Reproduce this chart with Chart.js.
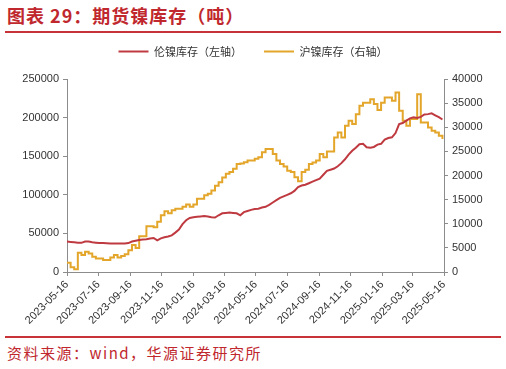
<!DOCTYPE html>
<html><head><meta charset="utf-8">
<script src="https://cdn.jsdelivr.net/npm/chart.js@4.4.1/dist/chart.umd.min.js"></script>
<style>
html,body{margin:0;padding:0;background:#fff;width:506px;height:369px;overflow:hidden;}
#title{position:absolute;left:7px;top:3px;font:bold 18px "Noto Sans CJK SC";color:#c0282e;letter-spacing:1px;white-space:nowrap;line-height:24px;}
.rule{position:absolute;left:5px;width:496px;height:2px;background:#c8333a;}
#src{position:absolute;left:7px;top:342px;font:15px "Noto Sans CJK SC";color:#c0282e;letter-spacing:1.5px;white-space:nowrap;line-height:22px;}
#wrap{position:absolute;left:0;top:24px;width:506px;height:312px;}
</style></head><body>
<div id="title">图表 29：期货镍库存（吨）</div>
<div class="rule" style="top:31px"></div>
<div id="wrap"><canvas id="c" width="506" height="312"></canvas></div>
<div class="rule" style="top:336px"></div>
<div id="src">资料来源：wind，华源证券研究所</div>
<script>
const startDate = '2023-05-16';
const tickLabels = ['2023-05-16','2023-07-16','2023-09-16','2023-11-16','2024-01-16','2024-03-16','2024-05-16','2024-07-16','2024-09-16','2024-11-16','2025-01-16','2025-03-16','2025-05-16'];
const seriesNames = ['伦镍库存（左轴）','沪镍库存（右轴）'];
// weekly readings starting 2023-05-16
const lmeStocks = [39500,39000,38500,38000,37800,39500,39500,38500,38000,37500,
37500,37200,37000,37000,36800,36800,37000,37500,39500,40500,
41500,42000,42500,43500,44000,41000,43500,45000,46000,47500,
51000,55000,62000,67000,70000,71000,71500,72000,72500,72000,
71000,70500,73500,76000,76500,77000,76500,76000,73500,77500,
79000,80500,81500,82000,83500,84500,87000,90000,93000,96000,
98000,100000,102000,105000,110000,112000,113000,115000,117000,119000,
121000,126000,131000,132500,134000,137000,141000,146000,152000,157000,
161000,165500,166000,161500,161000,162000,165000,166000,171500,173500,
174500,180000,191500,193000,196000,199000,200500,199500,201000,204000,
204500,205500,203000,200500,197500];
const shfeStocks = [1900,970,560,4000,3500,4200,3850,3150,2800,2800,
2470,2470,3000,3500,3000,3300,3700,4500,5600,5000,
7400,7400,9500,9500,9300,10400,11750,12580,12200,12800,
13100,13100,13500,14000,13500,14000,15200,15200,15900,16200,
16900,17900,18600,19600,20350,20700,21400,22400,22500,22750,
23100,23100,23450,23800,24800,25500,25500,24470,23100,22400,
21860,21000,20700,19650,18830,20700,21170,22400,22700,23100,
24470,23800,25000,25000,27900,28900,27900,30300,31340,30650,
32720,34440,35100,35100,35800,34800,33550,35100,36150,36150,
35470,37180,33400,31340,30300,31700,31700,36850,31000,31000,
29960,29280,28900,28250,27570];

const DAY = 86400000;
const t0 = Date.parse(startDate + 'T00:00:00Z');
const dayOf = s => Math.round((Date.parse(s + 'T00:00:00Z') - t0) / DAY);
const weekDates = lmeStocks.map((_, i) => new Date(t0 + i * 7 * DAY).toISOString().slice(0, 10));
const tickOffsets = tickLabels.map(dayOf);

const RED = '#bf3a40', YEL = '#e3a62a';
const tickFont = {family: '"Liberation Sans", Arial, sans-serif', size: 11};
const axisCol = '#8c8c8c';

const legendGap = {
  id: 'legendGap',
  beforeInit(chart) {
    const fit = chart.legend.fit;
    chart.legend.fit = function () { fit.bind(this)(); this.height += 12; };
  }
};

new Chart(document.getElementById('c'), {
  type: 'line',
  plugins: [legendGap],
  data: {
    datasets: [
      {label: seriesNames[0], data: lmeStocks.map((v, i) => ({x: dayOf(weekDates[i]), y: v})),
       borderColor: RED, backgroundColor: RED, borderWidth: 2, pointRadius: 0, tension: 0, yAxisID: 'yL'},
      {label: seriesNames[1], data: shfeStocks.map((v, i) => ({x: dayOf(weekDates[i]), y: v})),
       borderColor: YEL, backgroundColor: YEL, borderWidth: 2, pointRadius: 0, stepped: 'before', yAxisID: 'yR'}
    ]
  },
  options: {
    responsive: false, animation: false,
    layout: {padding: {top: 0, left: 0, right: 0, bottom: 0}},
    plugins: {
      legend: {position: 'top', labels: {usePointStyle: true, pointStyle: 'line', pointStyleWidth: 30,
        font: {family: '"Noto Sans CJK SC"', size: 11}, color: '#333', padding: 22}},
      tooltip: {enabled: false}
    },
    scales: {
      x: {type: 'linear', min: 0, max: tickOffsets[tickOffsets.length - 1],
        afterBuildTicks: s => { s.ticks = tickOffsets.map(v => ({value: v})); },
        afterFit: s => { s.height = 64; },
        ticks: {autoSkip: false, maxRotation: 45, minRotation: 45, font: tickFont, color: '#333', padding: 2,
          callback: (v, i) => tickLabels[i]},
        grid: {drawOnChartArea: false, drawTicks: true, tickLength: 4, color: axisCol},
        border: {color: axisCol}},
      yL: {position: 'left', min: 0, max: 250000,
        afterFit: s => { s.width = 67; },
        ticks: {stepSize: 50000, font: tickFont, color: '#333', padding: 4, callback: v => String(v)},
        grid: {drawOnChartArea: false, drawTicks: true, tickLength: 4, color: axisCol},
        border: {color: axisCol}},
      yR: {position: 'right', min: 0, max: 40000,
        afterFit: s => { s.width = 62; },
        ticks: {stepSize: 5000, font: tickFont, color: '#333', padding: 4, callback: v => String(v)},
        grid: {drawOnChartArea: false, drawTicks: true, tickLength: 4, color: axisCol},
        border: {color: axisCol}}
    }
  }
});
</script>
</body></html>
